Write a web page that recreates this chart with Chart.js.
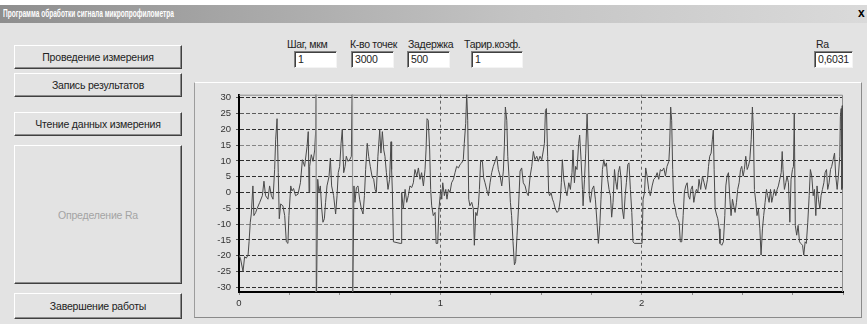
<!DOCTYPE html>
<html>
<head>
<meta charset="utf-8">
<script src="https://cdn.jsdelivr.net/npm/chart.js@4.4.0/dist/chart.umd.min.js"></script>
<style>
  body { margin: 0; width: 867px; height: 324px; background: #fff; overflow: hidden;
         font-family: "Liberation Sans", Arial, sans-serif; font-size: 11px; color: #111; }
  .win { position: absolute; left: 0; top: 5px; width: 867px; height: 319px; background: #e3e3e3; }
  .title { position: absolute; left: 0; top: 0; width: 867px; height: 18px;
           background: linear-gradient(to right, #8e8e8e, #c4c4c4 60%, #dadada); }
  .title span { position: absolute; left: 3px; top: 3px; color: #fff; font-weight: bold; font-size: 10px;
                transform: scaleX(0.655); transform-origin: left; white-space: nowrap; }
  .close { position: absolute; left: 858px; top: 1px; font-weight: bold; font-size: 12px; color: #000; }
  .btn { position: absolute; left: 14px; width: 168px; background: #e3e3e3; box-sizing: border-box;
         border-top: 1px solid #fff; border-left: 1px solid #fff;
         border-right: 1px solid #404040; border-bottom: 1px solid #404040;
         box-shadow: inset -1px -1px #8c8c8c; font-size: 10.5px; color: #222;
         display: flex; align-items: center; justify-content: center; white-space: nowrap; letter-spacing: -0.2px; }
  .lbl { position: absolute; top: 33px; white-space: nowrap; letter-spacing: -0.3px; font-size: 10.5px; color: #222; }
  .inp { position: absolute; top: 46px; height: 17px; background: #fff; box-sizing: border-box;
         border-top: 1px solid #808080; border-left: 1px solid #808080;
         border-right: 1px solid #f4f4f4; border-bottom: 1px solid #f4f4f4;
         box-shadow: inset 1px 1px #404040; padding-left: 3px; line-height: 15px; letter-spacing: -0.2px;
         font-size: 10.5px; color: #222; }
  .panel { position: absolute; left: 194px; top: 77px; width: 668px; height: 236px; box-sizing: border-box;
           border-top: 1px solid #fff; border-left: 1px solid #9c9c9c;
           border-right: 1px solid #8a8a8a; border-bottom: 1px solid #8a8a8a; }
  #profile { position: absolute; left: 196px; top: 84px; }
</style>
</head>
<body>
<div class="win">
  <div class="title"><span>Программа обработки сигнала микропрофилометра</span><div class="close">x</div></div>
  <div class="btn" style="top:40px;height:24px">Проведение измерения</div>
  <div class="btn" style="top:68px;height:24px">Запись результатов</div>
  <div class="btn" style="top:107px;height:24px">Чтение данных измерения</div>
  <div class="btn" style="top:140px;height:139px;color:#a4a4a4">Определение Ra</div>
  <div class="btn" style="top:288px;height:26px">Завершение работы</div>

  <div class="lbl" style="left:287px">Шаг, мкм</div>
  <div class="inp" style="left:294px;width:43px">1</div>
  <div class="lbl" style="left:350px">К-во точек</div>
  <div class="inp" style="left:351px;width:43px">3000</div>
  <div class="lbl" style="left:408px">Задержка</div>
  <div class="inp" style="left:407px;width:43px">500</div>
  <div class="lbl" style="left:464px">Тарир.коэф.</div>
  <div class="inp" style="left:471px;width:52px">1</div>
  <div class="lbl" style="left:816px">Ra</div>
  <div class="inp" style="left:814px;width:39px">0,6031</div>

  <div class="panel"></div>
</div>
<canvas id="profile" width="664" height="232"></canvas>
<script>
// point number along the trace (step 1 um, so 1000 points = 1 mm)
const pointIdx = [
  0,7,20,28,36,45,50,56,61,69,74,83,89,103,116,124,132,144,152,161,169,177,182,189,195,200,207,218,227,235,243,248,257,263,271,281,293,305,315,326,338,344,348,351,359,368,376,381,383,384,391,397,404,411,417,424,430,437,447,454,460,470,480,487,493,500,507,513,520,527,533,541,550,558,563,564,571,576,583,591,599,608,616,623,629,637,644,652,661,669,676,682,690,699,705,712,719,725,732,740,748,755,
  758,762,767,800,805,808,816,825,833,841,849,858,866,874,883,891,899,907,916,924,929,934,940,947,952,957,965,974,979,987,993,1002,1007,1012,1020,1027,1033,1040,1048,1056,1065,1073,1081,1090,1098,1106,1114,1119,1126,1131,1136,1141,1147,1156,1164,1169,1176,1182,1189,1194,1200,1209,1215,1222,1230,1239,1247,1255,1263,1272,1280,1288,1297,1305,1313,1318,1323,1330,1335,1341,1348,1354,1361,1368,1374,1381,1388,1396,1404,1412,1421,1429,1437,1446,1454,1462,1470,1479,1487,1495,1504,1512,
  1517,1522,1527,1533,1538,1543,1550,1557,1563,1571,1580,1588,1596,1601,1606,1613,1621,1629,1638,1646,1654,1659,1666,1672,1679,1687,1692,1699,1706,1709,1716,1722,1729,1735,1740,1745,1754,1762,1770,1778,1785,1792,1798,1805,1812,1818,1825,1831,1838,1845,1851,1858,1865,1871,1878,1884,1891,1898,1904,1911,1918,1924,1931,1937,1944,1951,1957,1964,2002,2007,2014,2020,2027,2035,2043,2052,2060,2068,2077,2085,2093,2101,2110,2118,2126,2135,2139,2144,2149,2154,2159,2166,2173,2179,2186,2192,2199,2206,2212,2219,2226,2232,2239,2245,2252,2259,2267,
  2272,2279,2285,2293,2302,2310,2318,2327,2332,2338,2345,2351,2356,2360,2365,2371,2378,2385,2389,2398,2406,2413,2418,2424,2431,2438,2444,2451,2457,2464,2471,2477,2484,2491,2497,2504,2510,2517,2524,2530,2537,2544,2550,2555,2560,2567,2573,2580,2587,2593,2600,2606,2613,2620,2626,2633,2640,2646,2653,2659,2666,2673,2679,2686,2693,2698,2702,2709,2716,2722,2729,2736,2742,2749,2754,2758,2763,2770,2777,2784,2790,2799,2805,2812,2818,2825,2832,2838,2845,2852,2858,2865,2871,2878,2885,2891,2898,2905,2911,2918,2924,2931,2938,2944,2951,2958,2964,2971,2977,2984,2987,2991,2994,2996,2998,3000
];
// profile height, um
const signal = [
  -19.8,-20.8,-25,-20.3,-20.8,-19.8,-15.6,-9.4,-6.8,2.1,-7.3,-6.3,-5.2,-3.1,-1.0,3.6,-1.0,-2.1,2.1,-1.0,-2.1,7.3,16.7,23.4,6.3,-8.3,-3.6,-4.2,-7.3,-15.6,-16.1,-7.3,2.1,0.5,1.3,-1.0,-0.5,3.1,10.4,8.3,14.6,19.3,0,8.3,12,9.9,13.5,19.8,40,-40,4.2,0,2.1,-5.2,-9.4,-8.3,-3.1,2.1,5.0,10.9,2.1,-1.0,-6.8,-1.0,6.3,8.3,15.6,20,6.3,8.3,11.5,9.9,10.4,11.5,40,-40,2.1,-3.1,1.6,2.1,-2.1,-5.2,-6.8,-1.0,7.3,15.6,11.5,8.3,5.0,4.2,1.0,0,11.5,19.8,12.5,19.3,13.5,11.5,6.3,1.0,4.2,16.1,
  7.3,0,-15.6,-16.1,-16.1,0,-5.2,1.0,-3.1,-1.0,2.1,1.6,3.1,7.3,5.2,7.8,4.2,6.3,2.1,7.3,13.5,23.4,22.9,13.5,1.0,-4.2,-7.3,-6.3,-16.1,-16.1,-5.2,1.0,-2.1,3.1,-1.0,1.0,-2.1,1.0,0,3.1,4.2,6.3,8.3,7.8,8.9,9.4,10.4,15.6,21.9,31.5,22.9,-2.1,-4.2,-3.1,-5.2,-16.7,-6.3,-7.3,-4.2,1.0,9.9,9.9,4.7,3.1,1.0,-1.0,3.1,6.3,8.3,9.9,11.5,7.3,5.2,2.1,6.8,14.6,27.1,22.9,11.5,5.2,-3.1,-7.3,-15.6,-22.9,-21.9,-13.5,-5.2,6.8,7.8,3.1,2.1,0,-1.0,5.2,8.3,13.0,10.4,11.5,9.9,11.5,10.4,13.5,
  15.6,26.0,26.6,11.5,0,-1.0,0,-2.1,-3.1,-5.2,-6.3,-5.7,-2.1,3.1,10.4,4.2,1.0,-1.0,3.1,1.0,6.3,13.5,3.1,8.3,7.3,15.6,18.2,10.4,1.0,-4.2,4.2,12.5,25,13.5,-1.0,-3.1,1.0,2.1,-2.1,-9.4,-16.1,-10.4,-2.1,7.3,10.4,8.3,9.4,4.2,1.0,-1.0,-7.8,-3.1,7.3,3.6,1.0,6.3,8.3,4.2,-5.2,-8.3,-1.0,3.1,8.9,9.4,1.0,-6.3,-15.6,-16.1,-16.1,-2.1,0,7.8,5.2,1.0,-1.0,2.1,4.2,4.7,6.3,4.2,7.3,6.8,7.8,5.2,8.3,9.9,14.6,27.1,22.9,7.3,-3.1,-4.7,-7.3,-8.3,-9.4,-15.6,-15.6,-7.3,0,2.1,3.1,-1.0,-2.1,1.0,2.1,-3.1,0,
  1.0,0,4.2,1.0,5.2,3.1,1.0,4.2,8.3,11.5,12.5,16.7,19.8,7.3,-5.2,-6.8,-8.3,-11.5,-16.1,-16.7,-15.6,-7.3,2.1,5.2,6.3,-2.1,-7.3,-2.1,-4.2,-6.3,-3.1,1.0,3.1,7.3,8.3,5.2,7.3,11.5,7.3,8.3,10.4,16.7,27.1,19.8,1.0,-3.1,-7.3,-5.2,-11.5,-19.8,-11.5,-7.3,-3.1,1.0,-1.0,-3.1,1.0,-3.1,-1.0,1.0,-1.0,1.0,2.1,4.2,6.3,13.0,7.3,1.0,3.1,5.2,3.1,-9.4,4.2,7.3,8.3,25,-10.4,-13.5,-10.4,-15.6,-16.1,-16.7,-19.8,-15.6,-16.1,-9.4,-1.0,7.3,5.2,-1.0,1.0,-7.3,2.1,-2.1,-5.2,-1.0,1.0,3.1,6.3,7.3,1.0,3.1,7.3,8.3,10.4,12.5,5.2,1.0,5.2,11.5,24,26.6,1.0,27.5,1.5,27
];
const xTickVals = [0, 250, 500, 750, 1000, 1250, 1500, 1750, 2000, 2250, 2500, 2750, 3000];
const xTickLabels = { 0: '0', 1000: '1', 2000: '2' };
const yTickVals = [-30, -25, -20, -15, -10, -5, 0, 5, 10, 15, 20, 25, 30];

const points = pointIdx.map((x, i) => ({ x: x, y: signal[i] }));
const tickFont = { family: "'Liberation Sans', Arial, sans-serif", size: 9.5 };

// grey frame on the top and right sides of the plot
const framePlugin = {
  id: 'frame',
  beforeDatasetsDraw(chart) {
    const a = chart.chartArea, c = chart.ctx;
    c.save();
    c.strokeStyle = '#8c8c8c';
    c.lineWidth = 1;
    c.beginPath();
    c.moveTo(a.left, a.top + 0.5);
    c.lineTo(a.right - 0.5, a.top + 0.5);
    c.lineTo(a.right - 0.5, a.bottom);
    c.stroke();
    c.restore();
  }
};

function yGridColor(ctx) {
  const v = ctx.tick && ctx.tick.value;
  if (v === 15 || v === -10) return '#858585';
  if (v === 25) return '#5c5c5c';
  return '#2e2e2e';
}

new Chart(document.getElementById('profile'), {
  type: 'line',
  data: {
    datasets: [{
      data: points,
      borderColor: '#4a4a4a',
      borderWidth: 1,
      pointRadius: 0,
      tension: 0,
      fill: false,
      // off-scale dropouts are drawn lighter, as on the original screen
      segment: {
        borderColor: ctx => Math.abs(ctx.p1.parsed.y - ctx.p0.parsed.y) > 50 ? '#9a9a9a' : undefined
      }
    }]
  },
  options: {
    responsive: false,
    animation: false,
    events: [],
    layout: { padding: { top: 8, right: 17, left: 0, bottom: 0 } },
    plugins: { legend: { display: false }, tooltip: { enabled: false } },
    scales: {
      x: {
        type: 'linear',
        min: 0,
        max: 3000,
        afterBuildTicks: s => { s.ticks = xTickVals.map(v => ({ value: v })); },
        afterFit: s => { s.height = 24; },
        ticks: {
          autoSkip: false,
          maxRotation: 0,
          padding: 3,
          color: '#333',
          font: tickFont,
          callback: v => xTickLabels[v] || ''
        },
        grid: {
          color: ctx => (ctx.tick && (ctx.tick.value === 1000 || ctx.tick.value === 2000)) ? '#666' : 'rgba(0,0,0,0)',
          tickColor: '#8a8a8a',
          tickLength: 3,
          tickBorderDash: []
        },
        border: { color: '#000', width: 2, dash: [3, 3] }
      },
      y: {
        min: -31.5,
        max: 31,
        afterBuildTicks: s => { s.ticks = yTickVals.map(v => ({ value: v })); },
        afterFit: s => { s.width = 43; },
        ticks: { padding: 5, color: '#333', font: tickFont },
        grid: {
          color: yGridColor,
          tickColor: '#555',
          tickLength: 3,
          tickBorderDash: []
        },
        border: { color: '#000', width: 2, dash: [4, 2] }
      }
    }
  },
  plugins: [framePlugin]
});
</script>
</body>
</html>
